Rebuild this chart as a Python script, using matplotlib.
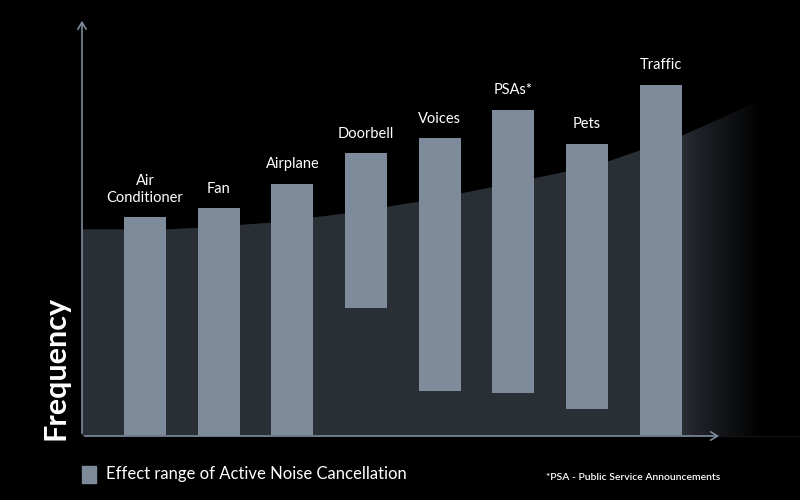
import matplotlib.pyplot as plt
import numpy as np
from matplotlib.patches import Rectangle

# noise sources and the frequency range ANC handles (0-100 scale)
sources = ["Air\nConditioner", "Fan", "Airplane", "Doorbell", "Voices", "PSAs*", "Pets", "Traffic"]
range_low = [0.2, 0.0, 0.2, 30.8, 10.8, 10.3, 6.5, 0.2]
range_high = [52.6, 54.8, 60.6, 68.0, 71.6, 78.4, 70.2, 84.4]

# ambient level curve (background area)
ambient_x = [-0.86, 0.29, 0.75, 1.70, 2.71, 3.73, 4.75, 5.77, 6.31, 7.29, 7.80, 8.34, 8.90]
ambient_y = [49.8, 49.8, 50.2, 51.4, 53.6, 56.5, 60.1, 63.9, 66.3, 72.4, 76.4, 80.8, 84.4]

bar_color = "#7d8b9b"
area_color = "#2a2f36"
axis_color = "#7d8b9b"

plt.rcParams["font.family"] = ["Lato", "DejaVu Sans"]

fig = plt.figure(figsize=(8, 5), dpi=100, facecolor="black")
ax = fig.add_axes([82 / 800, 64 / 500, 718 / 800, 416 / 500])
ax.set_facecolor("black")
ax.set_xlim(-0.855, 8.89)
ax.set_ylim(0, 100)
ax.axis("off")

# background area with fade to black at the right
area = ax.fill_between(ambient_x, 0, ambient_y, color=area_color, lw=0, zorder=1)
grad = np.zeros((2, 400, 4))
xs = np.linspace(-0.855, 8.89, 400)
alpha = np.clip((xs - 7.3) / (8.4 - 7.3), 0, 1) ** 0.8
grad[:, :, 3] = alpha
img = ax.imshow(grad, extent=[-0.855, 8.89, 0, 100], aspect="auto", zorder=1.5, origin="lower")
img.set_clip_path(area.get_paths()[0], transform=ax.transData)

x = np.arange(len(sources))
heights = np.array(range_high) - np.array(range_low)
ax.bar(x, heights, bottom=range_low, width=0.57, color=bar_color, zorder=2)

for xi, hi, name in zip(x, range_high, sources):
    ax.text(xi, hi + 3.0, name, ha="center", va="bottom", color="white",
            fontsize=10.5, linespacing=1.25, zorder=3)

# axes with open arrow heads
ax.annotate("", xy=(-0.855, 100.5), xytext=(-0.855, 0), annotation_clip=False,
            arrowprops=dict(arrowstyle="->,head_length=0.5,head_width=0.3", color=axis_color, lw=1.2))
ax.annotate("", xy=(7.83, 0), xytext=(-0.855, 0), annotation_clip=False,
            arrowprops=dict(arrowstyle="->,head_length=0.5,head_width=0.3", color=axis_color, lw=1.2))

fig.text(55 / 800, 1 - 368 / 500, "Frequency", rotation=90, ha="center", va="center",
         color="white", fontsize=22, fontweight="bold")

# legend
fig.patches.append(Rectangle((82 / 800, 1 - 483 / 500), 14 / 800, 17 / 500,
                             transform=fig.transFigure, color=bar_color))
fig.text(106 / 800, 1 - 474 / 500, "Effect range of Active Noise Cancellation",
         ha="left", va="center", color="white", fontsize=12)
fig.text(720 / 800, 1 - 477 / 500, "*PSA - Public Service Announcements",
         ha="right", va="center", color="white", fontsize=7.5, fontweight="semibold")

fig.savefig("out.png", dpi=100, facecolor="black")
